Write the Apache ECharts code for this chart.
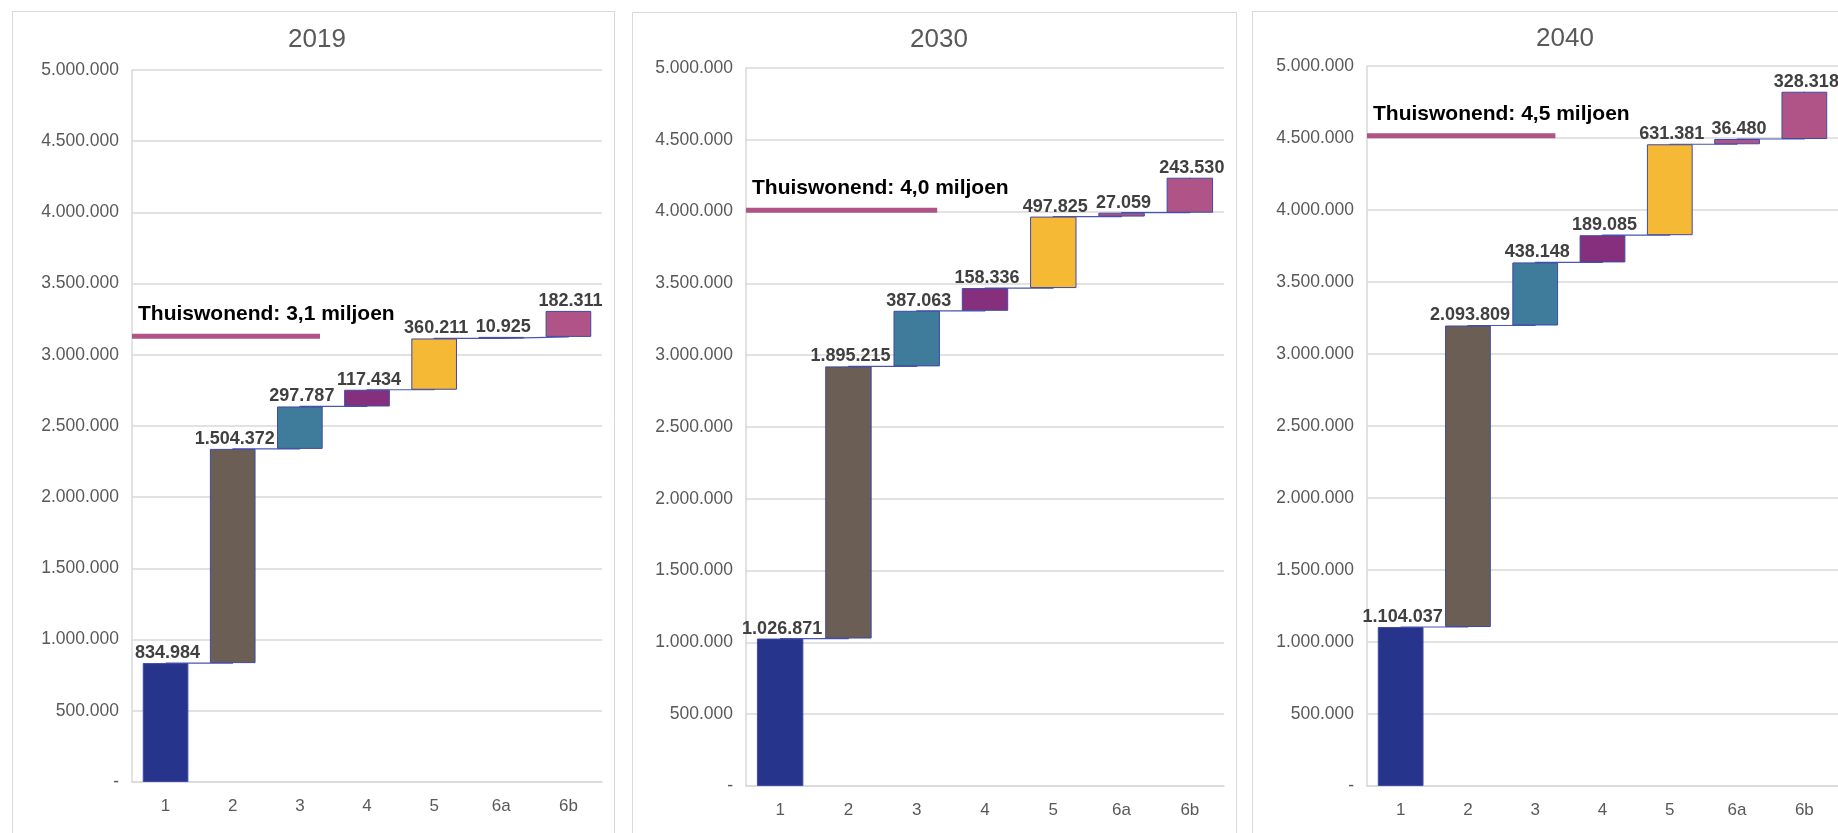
<!DOCTYPE html>
<html>
<head>
<meta charset="utf-8">
<script src="https://cdn.jsdelivr.net/npm/echarts@6/dist/echarts.min.js"></script>
<style>
  html, body { margin: 0; padding: 0; background: #fff; overflow: hidden; }
  #chart { width: 1838px; height: 833px; }
</style>
</head>
<body>
<div id="chart"></div>
<script>
const categories = ['1', '2', '3', '4', '5', '6a', '6b']
const years = ['2019', '2030', '2040']
const values2019 = [834984, 1504372, 297787, 117434, 360211, 10925, 182311]
const values2030 = [1026871, 1895215, 387063, 158336, 497825, 27059, 243530]
const values2040 = [1104037, 2093809, 438148, 189085, 631381, 36480, 328318]
const thuisLabels = ['Thuiswonend: 3,1 miljoen', 'Thuiswonend: 4,0 miljoen', 'Thuiswonend: 4,5 miljoen']
const thuisLevels = [3130000, 4010000, 4515000]
const thuisLineEnd = 2.8
const barColors = ['#27348b', '#6b5e55', '#3f7b9b', '#862f7d', '#f6b935', '#b05487', '#b05487']

const allValues = [values2019, values2030, values2040]

// plot area + panel frame per chart, in page pixels
const layout = [
  { left: 132, top: 70, width: 470, height: 712, titleX: 312, titleY: 22, panel: [12, 11, 602] },
  { left: 746, top: 68, width: 478, height: 718, titleX: 934, titleY: 22, panel: [632, 12, 604] },
  { left: 1367, top: 66, width: 490, height: 720, titleX: 1560, titleY: 21, panel: [1252, 11, 604] },
]

const FONT = "'Liberation Sans', Arial, sans-serif"

function fmt(v) {
  if (v === 0) return '-'
  return String(Math.round(v)).replace(/\B(?=(\d{3})+(?!\d))/g, '.')
}

function buildOption() {
  const option = {
    animation: false,
    backgroundColor: '#fff',
    textStyle: { fontFamily: FONT },
    title: [],
    grid: [],
    xAxis: [],
    yAxis: [],
    series: [],
    graphic: [],
  }

  allValues.forEach((vals, i) => {
    const lay = layout[i]
    const base = []
    const cum = []
    let run = 0
    vals.forEach((v) => {
      base.push(run)
      run += v
      cum.push(run)
    })

    option.graphic.push({
      type: 'rect',
      silent: true,
      z: -10,
      shape: { x: lay.panel[0] + 0.5, y: lay.panel[1] + 0.5, width: lay.panel[2], height: 900 },
      style: { fill: 'none', stroke: '#d9d9d9', lineWidth: 1 },
    })

    option.title.push({
      text: years[i],
      left: lay.titleX,
      top: lay.titleY,
      textAlign: 'center',
      textStyle: { color: '#595959', fontSize: 26, fontWeight: 'normal', fontFamily: FONT },
    })

    option.grid.push({ left: lay.left, top: lay.top, width: lay.width, height: lay.height })

    option.xAxis.push({
      type: 'category',
      gridIndex: i,
      data: categories,
      axisLine: { show: true, lineStyle: { color: '#d9d9d9', width: 1.5 } },
      axisTick: { show: false },
      axisLabel: { color: '#595959', fontSize: 17, margin: 16, fontFamily: FONT },
    })
    option.xAxis.push({ type: 'value', gridIndex: i, min: 0, max: categories.length, show: false })

    option.yAxis.push({
      type: 'value',
      gridIndex: i,
      min: 0,
      max: 5000000,
      interval: 500000,
      axisLine: { show: true, lineStyle: { color: '#d9d9d9', width: 1.5 } },
      axisTick: { show: false },
      splitLine: { lineStyle: { color: '#d9d9d9', width: 1.5 } },
      axisLabel: { color: '#595959', fontSize: 17.5, margin: 13, formatter: fmt, fontFamily: FONT },
    })

    // connectors between the bars
    option.series.push({
      type: 'line',
      xAxisIndex: i * 2,
      yAxisIndex: i,
      data: cum,
      step: 'end',
      symbol: 'none',
      z: 1,
      lineStyle: { color: '#4b56b0', width: 1.2 },
    })

    option.series.push({
      type: 'bar',
      xAxisIndex: i * 2,
      yAxisIndex: i,
      stack: 'wf' + i,
      data: base,
      barWidth: '68%',
      itemStyle: { color: 'transparent', borderWidth: 0 },
      silent: true,
      z: 2,
    })

    option.series.push({
      type: 'bar',
      xAxisIndex: i * 2,
      yAxisIndex: i,
      stack: 'wf' + i,
      barWidth: '68%',
      z: 3,
      data: vals.map((v, k) => ({
        value: v,
        itemStyle: { color: barColors[k], borderColor: '#3f4aa5', borderWidth: 1 },
      })),
      label: {
        show: true,
        position: 'top',
        distance: 1,
        offset: [2, 0],
        formatter: (p) => fmt(p.value),
        color: '#404040',
        fontSize: 18,
        fontWeight: 'bold',
        fontFamily: FONT,
      },
    })

    // Thuiswonend level line
    option.series.push({
      type: 'line',
      xAxisIndex: i * 2 + 1,
      yAxisIndex: i,
      symbol: 'circle',
      symbolSize: 0,
      showSymbol: true,
      z: 4,
      lineStyle: { color: '#b05487', width: 5, cap: 'butt' },
      itemStyle: { color: '#b05487' },
      data: [
        {
          value: [0, thuisLevels[i]],
          label: {
            show: true,
            formatter: thuisLabels[i],
            position: [6, -22],
            align: 'left',
            verticalAlign: 'middle',
            color: '#000',
            fontSize: 21,
            fontWeight: 'bold',
            fontFamily: FONT,
          },
        },
        [thuisLineEnd, thuisLevels[i]],
      ],
    })
  })

  return option
}

const chart = echarts.init(document.getElementById('chart'), null, { renderer: 'canvas' })
chart.setOption(buildOption())
</script>
</body>
</html>
